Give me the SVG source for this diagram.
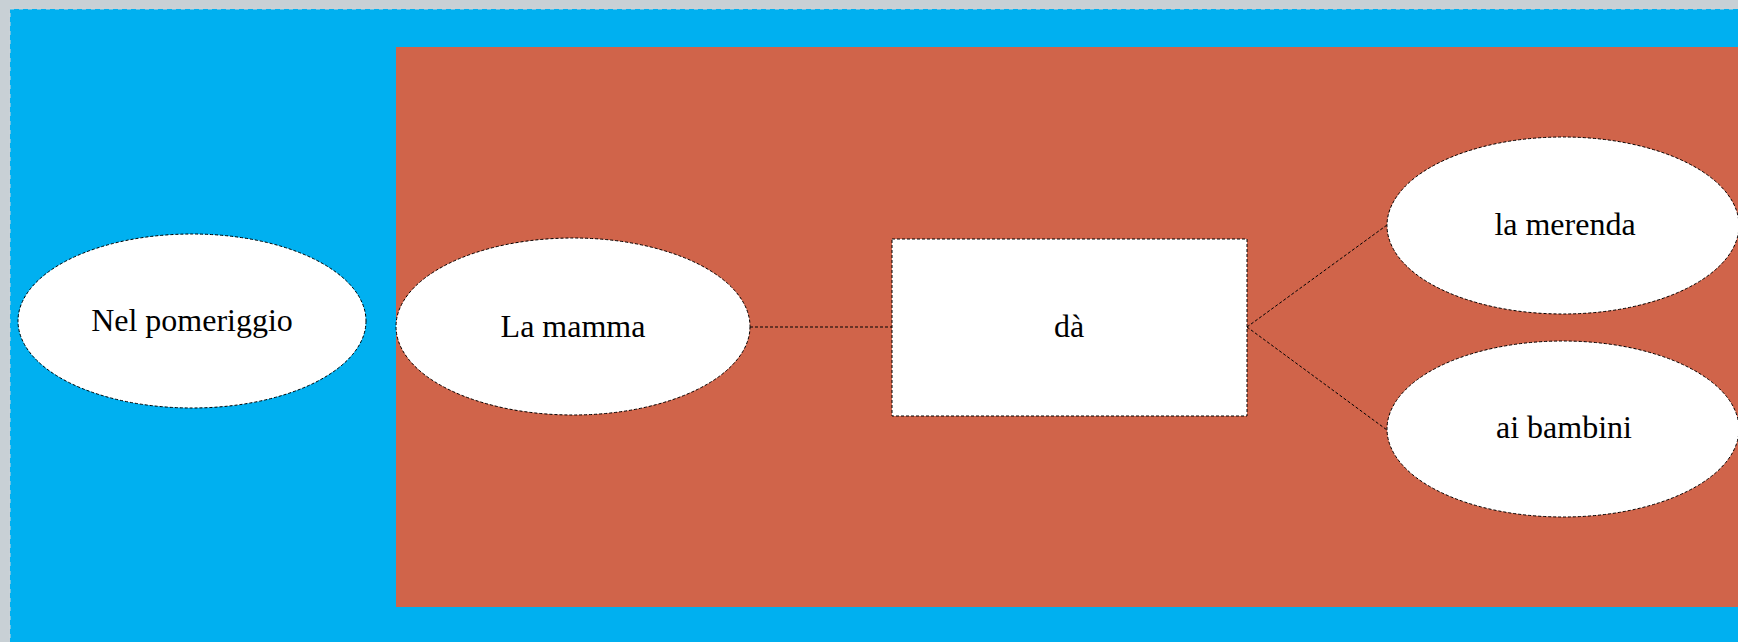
<svg xmlns="http://www.w3.org/2000/svg" width="1738" height="642" viewBox="0 0 1738 642">
<style>
.shape{fill:#ffffff;stroke:#000000;stroke-width:1;stroke-dasharray:3,2}
.lbl{font-family:"Liberation Serif","Times New Roman",serif;font-size:32px;fill:#000000;text-anchor:middle}
.conn{stroke:#000000;stroke-width:1;stroke-dasharray:3,2;fill:none}
</style>
<rect x="0" y="0" width="1738" height="642" fill="#c8d0d5"/>
<g id="sentence-frame">
<rect x="10" y="9" width="1740" height="640" fill="#00b0f0" stroke="#d0d6da" stroke-width="1" stroke-dasharray="4,5"/>
</g>
<g id="predicate-frame">
<rect x="396" y="47" width="1350" height="560" fill="#d0644a"/>
</g>
<g id="connectors">
<line class="conn" x1="750" y1="327" x2="892" y2="327"/>
<line class="conn" x1="1247" y1="327" x2="1387" y2="225"/>
<line class="conn" x1="1247" y1="327" x2="1387" y2="430"/>
</g>
<g id="node-nel-pomeriggio">
<ellipse class="shape" cx="192" cy="321" rx="174" ry="87"/>
<text class="lbl" x="192" y="331">Nel pomeriggio</text>
</g>
<g id="node-la-mamma">
<ellipse class="shape" cx="573" cy="326.5" rx="177" ry="88.5"/>
<text class="lbl" x="573" y="337">La mamma</text>
</g>
<g id="node-da">
<rect class="shape" x="892" y="239" width="355" height="177"/>
<text class="lbl" x="1069" y="337">dà</text>
</g>
<g id="node-la-merenda">
<ellipse class="shape" cx="1563" cy="225.5" rx="176" ry="88.5"/>
<text class="lbl" x="1565" y="235">la merenda</text>
</g>
<g id="node-ai-bambini">
<ellipse class="shape" cx="1563" cy="429" rx="176" ry="88"/>
<text class="lbl" x="1564" y="438">ai bambini</text>
</g>
</svg>
